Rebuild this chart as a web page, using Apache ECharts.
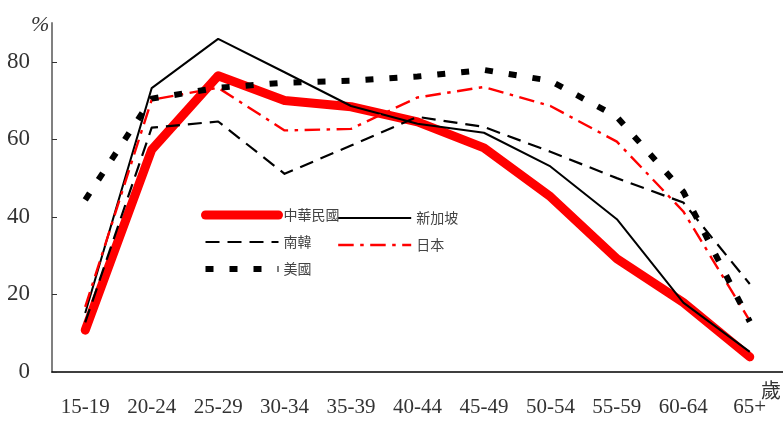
<!DOCTYPE html>
<html>
<head>
<meta charset="utf-8">
<script src="https://cdn.jsdelivr.net/npm/echarts@6/dist/echarts.min.js"></script>
<style>
  html, body { margin: 0; padding: 0; background: #fff; }
  #chart { width: 783px; height: 422px; }
</style>
</head>
<body>
<div id="chart"></div>
<script>
// Age groups on the horizontal axis
const ageGroups = ['15-19', '20-24', '25-29', '30-34', '35-39', '40-44', '45-49', '50-54', '55-59', '60-64', '65+'];

// Female labour force participation rate by age (%)
const taiwan    = [10.8, 57.3, 76.4, 70.0, 68.4, 64.5, 57.8, 45.2, 29.2, 17.9, 3.9];
const singapore = [15.2, 73.2, 85.9, 77.3, 68.6, 64.0, 61.7, 53.0, 39.4, 17.9, 5.2];
const korea     = [12.8, 63.0, 64.6, 51.1, 58.4, 65.8, 63.2, 56.8, 50.0, 43.7, 22.7];
const japan     = [16.8, 70.2, 73.3, 62.3, 62.7, 70.8, 73.5, 68.6, 59.4, 41.4, 13.2];
const usa       = [44.4, 70.5, 73.3, 74.6, 75.1, 76.2, 77.9, 75.1, 65.8, 46.5, 13.0];

// Y axis labels
const yTicks = [0, 20, 40, 60, 80];

const seriesNames = ['中華民國', '新加坡', '南韓', '日本', '美國'];

const styles = {
  '中華民國': { color: '#ff0000', width: 9, type: 'solid', cap: 'round' },
  '新加坡':   { color: '#000000', width: 2, type: 'solid', cap: 'butt' },
  '南韓':     { color: '#000000', width: 2.2, type: [14, 8], cap: 'butt' },
  '日本':     { color: '#ff0000', width: 2.4, type: [15.5, 6.5, 3.5, 6.5], cap: 'butt' },
  '美國':     { color: '#000000', width: 6, type: [8, 16], cap: 'butt' }
};

const dataByName = {
  '中華民國': taiwan,
  '新加坡': singapore,
  '南韓': korea,
  '日本': japan,
  '美國': usa
};

const serifFont = '"Liberation Serif", "DejaVu Serif", serif';
const cjkFont = '"Noto Sans CJK TC", "Noto Sans CJK SC", sans-serif';

function legendItem(name) {
  const s = styles[name];
  return {
    name: name,
    itemStyle: { color: 'rgba(0,0,0,0)', borderWidth: 0, opacity: 0 },
    lineStyle: { color: s.color, width: s.width, type: s.type, cap: s.cap }
  };
}

const legendCommon = {
  orient: 'vertical',
  padding: 0,
  itemWidth: 73,
  itemHeight: 16,
  itemGap: 13,
  selectedMode: false,
  textStyle: { fontFamily: cjkFont, fontSize: 14, color: '#444', padding: [12, 0, 0, 0] }
};

const chart = echarts.init(document.getElementById('chart'), null, { renderer: 'canvas' });

chart.setOption({
  animation: false,
  backgroundColor: '#ffffff',
  grid: { left: 52, right: -4, top: 23, bottom: 50, containLabel: false },
  legend: [
    Object.assign({}, legendCommon, {
      left: 201, top: 208,
      data: ['中華民國', '南韓', '美國'].map(legendItem)
    }),
    Object.assign({}, legendCommon, {
      left: 337, top: 211,
      data: ['新加坡', '日本'].map(legendItem)
    })
  ],
  xAxis: {
    type: 'category',
    data: ageGroups,
    boundaryGap: true,
    axisLine: { lineStyle: { color: '#000', width: 1.5 } },
    axisTick: { inside: true, length: 7, alignWithLabel: false, lineStyle: { color: '#555', width: 1 } },
    axisLabel: { margin: 25, fontFamily: serifFont, fontSize: 21, color: '#333' },
    splitLine: { show: false }
  },
  yAxis: {
    type: 'value',
    min: 0,
    max: 90,
    axisLine: { show: true, lineStyle: { color: '#808080', width: 2 } },
    axisTick: { show: true, inside: true, length: 5, customValues: yTicks, lineStyle: { color: '#333', width: 1 } },
    axisLabel: { margin: 22, customValues: yTicks, fontFamily: serifFont, fontSize: 23, color: '#333' },
    splitLine: { show: false }
  },
  graphic: [
    {
      type: 'text', left: 31, top: 14,
      style: { text: '%', font: 'italic 22px ' + serifFont, fill: '#333' }
    },
    {
      type: 'text', left: 761, top: 380,
      style: { text: '歲', font: '20px ' + cjkFont, fill: '#333' }
    }
  ],
  series: seriesNames.map(function (name) {
    const s = styles[name];
    return {
      name: name,
      type: 'line',
      data: dataByName[name],
      symbol: 'none',
      smooth: false,
      lineStyle: { color: s.color, width: s.width, type: s.type, cap: s.cap, join: 'round' },
      itemStyle: { color: s.color }
    };
  })
});
</script>
</body>
</html>
